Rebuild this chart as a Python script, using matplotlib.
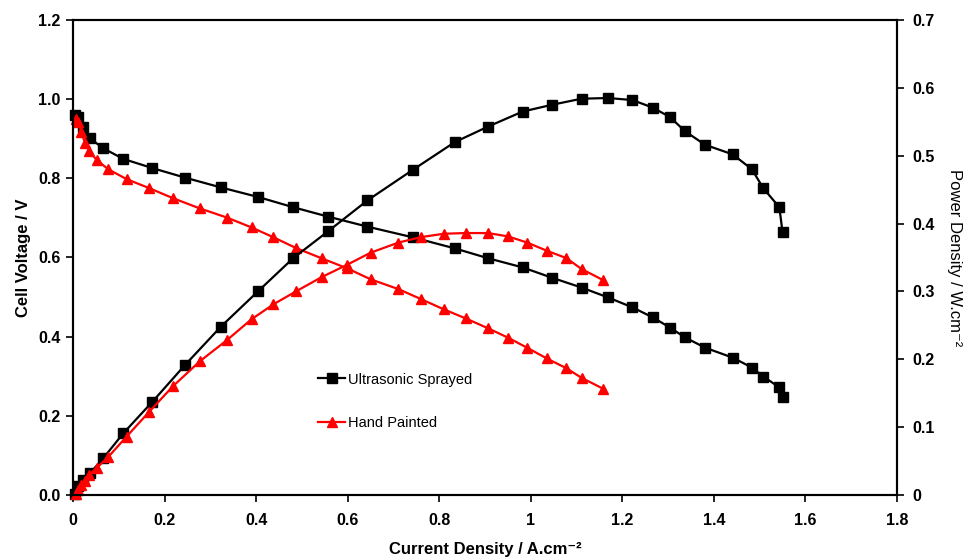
import matplotlib
matplotlib.use("Agg")
import matplotlib.pyplot as plt

plt.rcParams['font.family'] = ['Liberation Sans', 'DejaVu Sans']

# Ultrasonic Sprayed
us_i = [0.004, 0.012, 0.022, 0.037, 0.066, 0.110, 0.173, 0.244, 0.323, 0.404, 0.481,
        0.558, 0.643, 0.742, 0.834, 0.907, 0.982, 1.046, 1.111, 1.169, 1.222, 1.266,
        1.304, 1.337, 1.381, 1.441, 1.483, 1.508, 1.543, 1.550]
us_v = [0.960, 0.955, 0.930, 0.901, 0.876, 0.849, 0.826, 0.802, 0.777, 0.753, 0.727,
        0.703, 0.678, 0.651, 0.623, 0.598, 0.575, 0.549, 0.524, 0.499, 0.474, 0.449,
        0.423, 0.398, 0.372, 0.347, 0.322, 0.299, 0.272, 0.248]
us_p = [0.002, 0.013, 0.022, 0.032, 0.054, 0.091, 0.137, 0.191, 0.248, 0.300, 0.349,
        0.389, 0.434, 0.479, 0.520, 0.543, 0.565, 0.575, 0.584, 0.585, 0.582, 0.571,
        0.557, 0.536, 0.516, 0.502, 0.480, 0.452, 0.424, 0.387]

# Hand Painted
hp_i = [0.006, 0.012, 0.018, 0.026, 0.036, 0.052, 0.077, 0.117, 0.167, 0.218, 0.277,
        0.336, 0.390, 0.438, 0.487, 0.543, 0.598, 0.650, 0.711, 0.760, 0.810, 0.858,
        0.907, 0.951, 0.992, 1.035, 1.078, 1.111, 1.157]
hp_v = [0.950, 0.943, 0.918, 0.890, 0.868, 0.846, 0.823, 0.798, 0.775, 0.750, 0.724,
        0.701, 0.676, 0.651, 0.624, 0.598, 0.573, 0.545, 0.520, 0.495, 0.469, 0.446,
        0.421, 0.397, 0.372, 0.345, 0.320, 0.296, 0.269]
hp_p = [0.002, 0.008, 0.014, 0.021, 0.030, 0.040, 0.056, 0.086, 0.123, 0.160, 0.197,
        0.228, 0.259, 0.281, 0.300, 0.321, 0.339, 0.357, 0.372, 0.380, 0.385, 0.386,
        0.386, 0.381, 0.372, 0.360, 0.349, 0.333, 0.317]

x_ticks = [0, 0.2, 0.4, 0.6, 0.8, 1.0, 1.2, 1.4, 1.6, 1.8]
x_labels = ['0', '0.2', '0.4', '0.6', '0.8', '1', '1.2', '1.4', '1.6', '1.8']
yl_ticks = [0.0, 0.2, 0.4, 0.6, 0.8, 1.0, 1.2]
yl_labels = ['0.0', '0.2', '0.4', '0.6', '0.8', '1.0', '1.2']
yr_ticks = [0, 0.1, 0.2, 0.3, 0.4, 0.5, 0.6, 0.7]
yr_labels = ['0', '0.1', '0.2', '0.3', '0.4', '0.5', '0.6', '0.7']

fig = plt.figure(figsize=(9.69, 5.6), dpi=100)
ax = fig.add_axes([0.0753, 0.1161, 0.8504, 0.8482])
ax2 = ax.twinx()

ms = 7.2
lw = 1.6
l1, = ax.plot(us_i, us_v, color='black', marker='s', ms=ms, lw=lw, label='Ultrasonic Sprayed', clip_on=False)
l2, = ax.plot(hp_i, hp_v, color='#ff0000', marker='^', ms=ms, lw=lw, label='Hand Painted', clip_on=False)
ax2.plot(us_i, us_p, color='black', marker='s', ms=ms, lw=lw, clip_on=False)
ax2.plot(hp_i, hp_p, color='#ff0000', marker='^', ms=ms, lw=lw, clip_on=False)

ax.set_xlim(0, 1.8)
ax.set_ylim(0, 1.2)
ax2.set_ylim(0, 0.7)

ax.set_xticks(x_ticks)
ax.set_xticklabels(x_labels)
ax.set_yticks(yl_ticks)
ax.set_yticklabels(yl_labels)
ax2.set_yticks(yr_ticks)
ax2.set_yticklabels(yr_labels)

for a in (ax, ax2):
    for s in a.spines.values():
        s.set_linewidth(1.5)
    a.tick_params(direction='out', length=5, width=1.2, labelsize=11.5)
    for t in a.get_xticklabels() + a.get_yticklabels():
        t.set_fontweight('bold')
ax.tick_params(axis='x', pad=8)
ax.tick_params(axis='y', pad=4)
ax2.tick_params(axis='y', pad=6)

ax.set_xlabel('Current Density / A.cm\u207b\u00b2', fontsize=12, fontweight='bold', labelpad=10,
              family=['Liberation Sans', 'DejaVu Sans'])
ax.set_ylabel('Cell Voltage / V', fontsize=12, fontweight='bold', labelpad=5)
ax2.set_ylabel('Power Density / W.cm\u207b\u00b2', fontsize=12, fontweight='normal',
               rotation=270, labelpad=20, family=['Liberation Sans', 'DejaVu Sans'])

leg = ax.legend(handles=[l1, l2], loc='upper left', bbox_to_anchor=(0.29, 0.27),
                frameon=False, fontsize=10.5, handlelength=1.9, handletextpad=0.2,
                labelspacing=2.05, borderaxespad=0)

fig.savefig('out.png', dpi=100)
